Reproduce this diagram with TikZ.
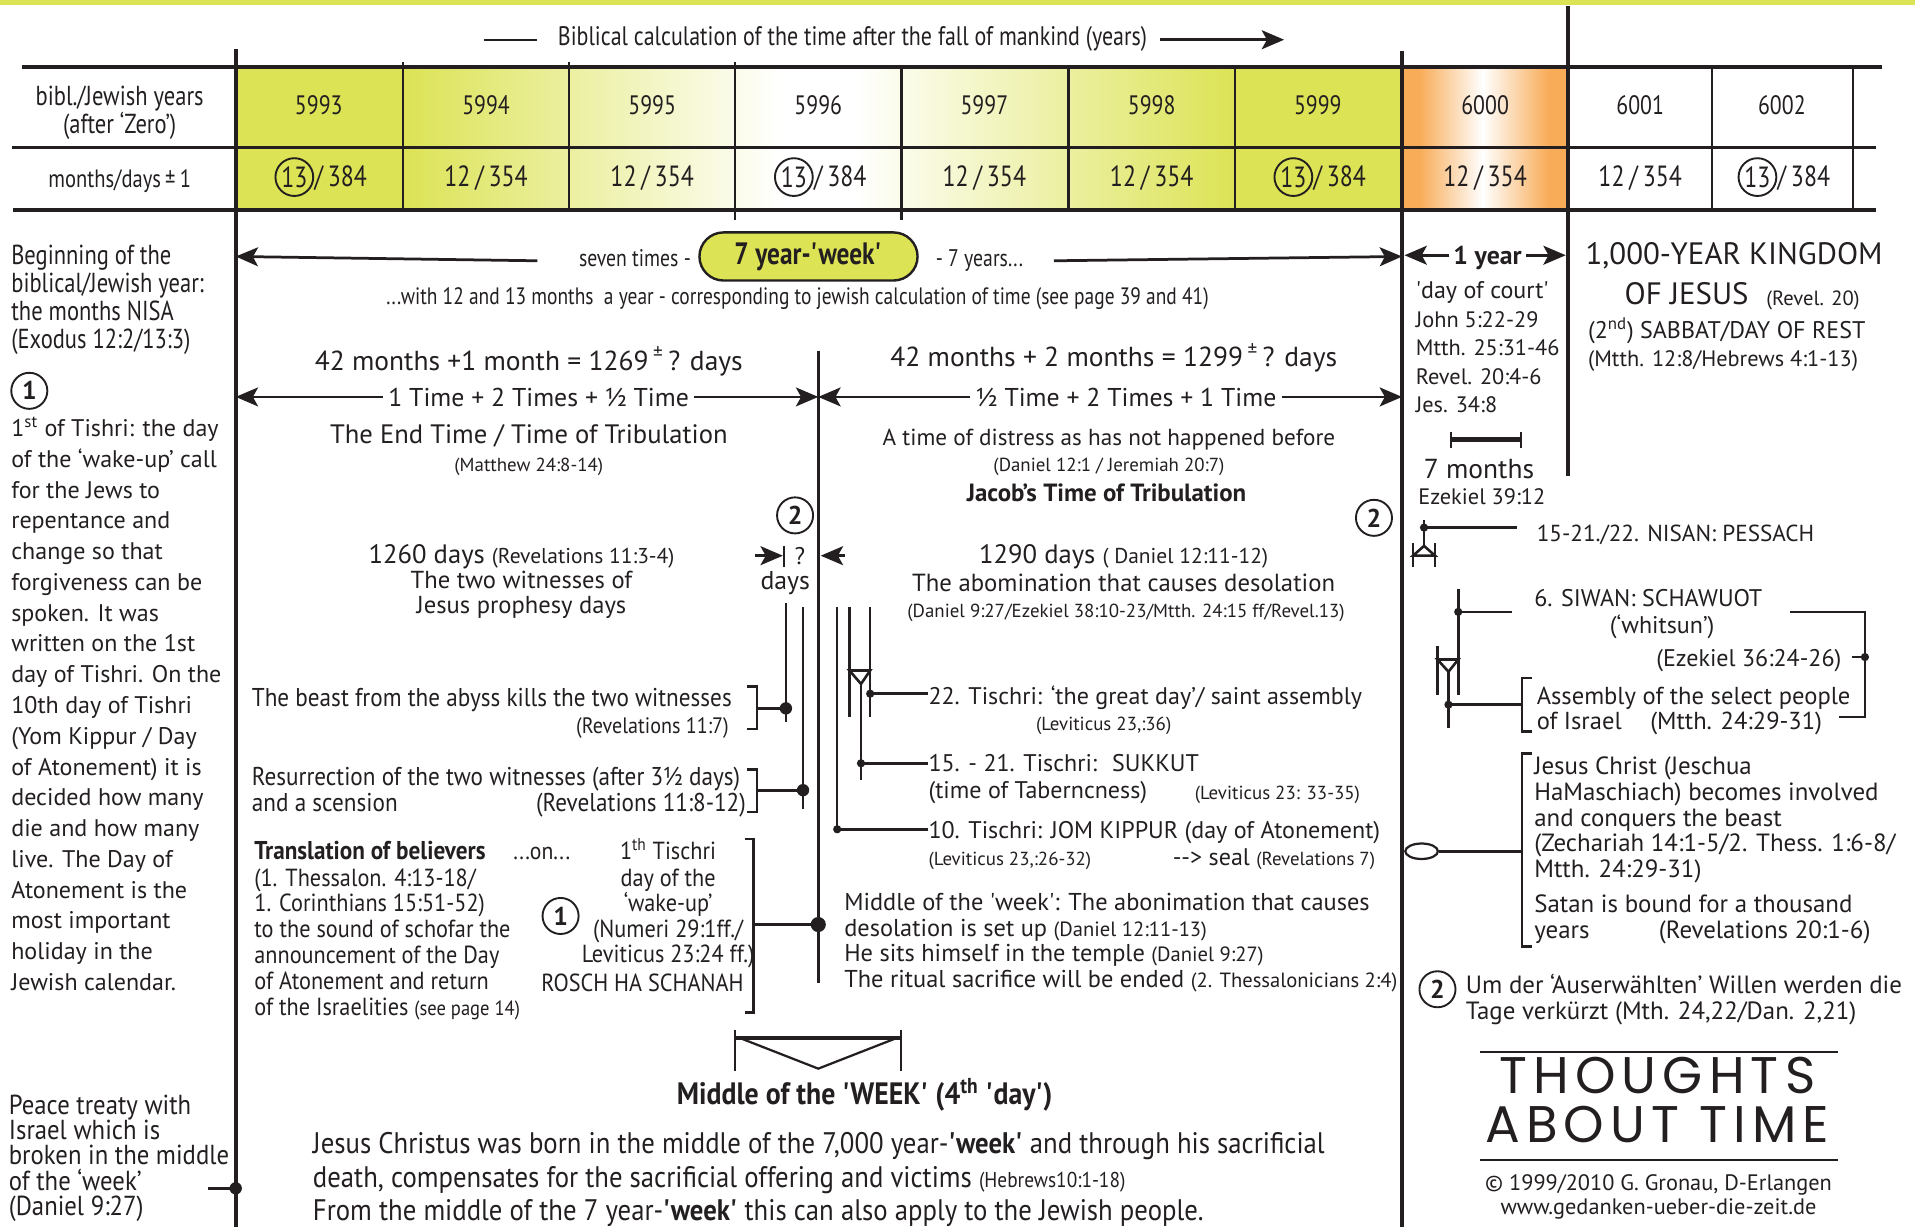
\documentclass[tikz,border=0pt]{standalone}
\usepackage{fontspec}
\setmainfont{PT Sans}
\newfontfamily\cond[FakeStretch=0.82]{PT Sans}
\newfontfamily\condb[FakeStretch=0.9]{PT Sans}
\newfontfamily\hand[LetterSpace=12]{Poppins}
\usetikzlibrary{arrows.meta,shapes.geometric}
\definecolor{ygreen}{RGB}{220,227,85}
\definecolor{orng}{RGB}{248,172,88}
\definecolor{ink}{RGB}{35,31,32}
\newcommand\fs[1]{\fontsize{#1}{#1}\selectfont}
\newcommand\sq{\textquotesingle}
\tikzset{
  t/.style={inner sep=0pt, text height=0.7em, text depth=0pt, text=ink, yshift=-1.8pt},
  arr/.style={line width=1.6pt, draw=ink, -{Stealth[length=13pt, width=11pt, inset=3pt]}},
  num/.style={circle, draw=ink, line width=1.1pt, minimum size=21pt, inner sep=0pt, text=ink, font=\bfseries\fs{15}},
  brk/.style={line width=1.4pt, draw=ink},
  tl/.style={line width=1.5pt, draw=ink},
}
\begin{document}
\begin{tikzpicture}[x=0.025cm, y=-0.025cm, line cap=butt]
\useasboundingbox (0,0) rectangle (1568,1005);
% top bar
\fill[ygreen] (0,0) rectangle (1568,4);
% header
\node[t, font=\cond\fs{15.6}] (hdr) at (698,30) {Biblical calculation of the time after the fall of mankind (years)};
\draw[line width=1.2pt, ink] (hdr.west) ++(-17,0) -- ++(-43,0);
\draw[arr] (hdr.east) ++(10,0) -- ++(102,0);
% cells
\fill[ygreen] (193,55) rectangle (330,172);
\shade[left color=ygreen, right color=white] (330,55) rectangle (640,172);
\shade[left color=white, right color=ygreen] (700,55) rectangle (1011,172);
\fill[ygreen] (1011,55) rectangle (1148,172);
\fill[orng] (1148,55) rectangle (1284,172);
\shade[left color=orng, right color=white] (1162,55) rectangle (1214,172);
\shade[left color=white, right color=orng] (1214,55) rectangle (1268,172);
% table rules
\draw[line width=2pt, ink] (18,55) -- (1541,55);
\draw[line width=2pt, ink] (10,121) -- (1536,121);
\draw[line width=2pt, ink] (11,172) -- (1536,172);
\foreach \x/\a/\b in {330/51/172,466/51/172,602/51/180,738/55/180,875/53/172,1011/55/172,1402/55/172,1517/55/172}
  \draw[line width=1.4pt, ink] (\x,\a) -- (\x,\b);
% main time lines
\draw[line width=2.2pt, ink] (193,40) -- (193,1005);
\draw[line width=2.2pt, ink] (1148,42) -- (1148,1005);
\draw[line width=2.2pt, ink] (1284,5) -- (1284,390);
% table texts
\node[t, font=\cond\fs{16}] (lab1) at (98,79) {bibl./Jewish years};
\node[t, font=\cond\fs{16}] (lab2) at (98,102) {(after ‘Zero’)};
\node[t, font=\cond\fs{14.6}] (lab3) at (98,146) {months/days\,±\,1};
\foreach \x/\y [count=\i] in {261/5993,398/5994,534/5995,670/5996,806/5997,943/5998,1079/5999,1216/6000,1343/6001,1459/6002}
  \node[t, font=\cond\fs{15.5}] (yr\i) at (\x,86) {\y};
\foreach \x [count=\i] in {398,534,806,943,1216,1343}
  \node[t, font=\cond\fs{17}] (mt\i) at (\x,145) {12\,/\,354};
\foreach \x [count=\i] in {261,670,1079,1459}{
  \node[num, minimum size=22pt, font=\cond\fs{17}] (mc\i) at (\x-20,145) {13};
  \node[t, font=\cond\fs{17}, anchor=west] (md\i) at (mc\i.east) {/\,384};
}
% seven year week
\node[draw=ink, line width=1.4pt, fill=ygreen, rounded corners=14pt, minimum width=127pt, minimum height=28pt, inner sep=0pt, text=ink, font=\cond\bfseries\fs{18}] (week) at (662,210) {7 year-\sq week\sq};
\node[t, font=\cond\fs{14}, anchor=east] (sev) at (566,211) {seven times -};
\node[t, font=\cond\fs{14}, anchor=west] (sevy) at (766,211) {- 7 years...};
\coordinate (v1w) at (193,210);
\coordinate (v2w) at (1148,210);
\draw[arr] (sev.west -| 440,0) -- (v1w);
\draw[arr] (sevy.east -| 863,0) -- (v2w);
\node[t, font=\cond\fs{13.8}] (with) at (653,242) {...with 12 and 13 months \ a year - corresponding to jewish calculation of time (see page 39 and 41)};
% one year
\node[t, font=\bfseries\fs{15}] (oneyr) at (1218,209) {1 year};
\coordinate (v2y) at (1150,209);
\coordinate (v3y) at (1282,209);
\draw[arr] (v2y -| oneyr.west) ++(-3,0) -- (v2y);
\draw[arr] (v3y -| oneyr.east) ++(3,0) -- (v3y);
\foreach \s/\y [count=\i] in {{\fs{14}\sq day of court\sq}/237, John 5:22-29/261, Mtth. 25:31-46/284, Revel. 20:4-6/307, Jes. 34:8/330}
  \node[t, font=\fs{13}, anchor=west] (ct\i) at (1159,\y) {\s};
\draw[line width=2.6pt, ink] (1188,360) -- (1245,360);
\draw[line width=1.2pt, ink] (1188,354) -- (1188,367) (1245,354) -- (1245,367);
\node[t, font=\fs{16}] (sevm) at (1211,384) {7 months};
\node[t, font=\fs{13}, anchor=west] (ez) at (1161,406) {Ezekiel 39:12};
% kingdom
\node[t, font=\fs{18}, anchor=west] (king1) at (1298,209) {1,000-YEAR KINGDOM};
\node[t, font=\fs{18}, anchor=west] (king2) at (1330,242) {OF JESUS};
\node[t, font=\fs{12}, anchor=west] (king3) at (1446,243) {(Revel. 20)};
\node[t, font=\fs{14}, anchor=west] (sab) at (1300,270) {(2\textsuperscript{nd}) SABBAT/DAY OF REST};
\node[t, font=\fs{13}, anchor=west] (sabr) at (1300,293) {(Mtth. 12:8/Hebrews 4:1-13)};
% left column
\foreach \s [count=\i from 0] in {Beginning of the, biblical/Jewish year:, the months NISA, {(Exodus 12:2/13:3)}}
  \node[t, font=\cond\fs{16}, anchor=west] (bg\i) at (9,209+\i*23) {\s};
\node[num] (n1a) at (24,320) {1};
\foreach \s [count=\i from 0] in {1\textsuperscript{st} of Tishri: the day, of the ‘wake-up’ call, for the Jews to, repentance and, change so that, forgiveness can be, spoken. It was, written on the 1st, day of Tishri. On the, 10th day of Tishri, {(Yom Kippur / Day}, of Atonement) it is, decided how many, die and how many, live. The Day of, Atonement is the, most important, holiday in the, Jewish calendar.}
  \node[t, font=\fs{14}, anchor=west] (lp\i) at (9,350+\i*25.2) {\s};
\foreach \s [count=\i from 0] in {Peace treaty with, Israel which is, broken in the middle, of the ‘week’, {(Daniel 9:27)}}
  \node[t, font=\condb\fs{16}, anchor=west] (pt\i) at (7,905+\i*20.7) {\s};
\coordinate (ptd) at (193,973);
\draw[line width=2pt, ink] (170,973) -- (ptd);
\fill[ink] (ptd) circle (3.6pt);
% first half
\node[t, font=\fs{16}] (m42a) at (433,296) {42 months +1 month = 1269\,\textsuperscript{±}\,? days};
\node[t, fill=white, inner xsep=3pt, font=\fs{15}] (tla) at (441,325) {1 Time + 2 Times + ½ Time};
\coordinate (v1t) at (193,325);
\coordinate (cmt) at (670,325);
\draw[arr] (tla.west |- v1t) -- (v1t);
\draw[arr] (tla.east |- cmt) -- (cmt);
\node[t, font=\fs{15.5}] (endt) at (433,356) {The End Time / Time of Tribulation};
\node[t, font=\fs{11}] (mat) at (433,379) {(Matthew 24:8-14)};
\node[num] (n2a) at (651,422) {2};
\node[t, font=\fs{15.5}] (d1260) at (427,454) {1260 days {\fs{12.5}(Revelations 11:3-4)}};
\node[t, font=\fs{14.3}] (wit1) at (427,474) {The two witnesses of};
\node[t, font=\fs{14.3}] (wit2) at (427,495) {Jesus prophesy days};
\node[t, font=\fs{14}] (qm) at (655,455) {?};
\node[t, font=\fs{15}] (qd) at (643,475) {days};
\coordinate (qa) at (641,455);
\coordinate (qb) at (672,455);
\draw[arr] (618,455) -- (qa);
\draw[line width=1.5pt, ink] (642,447) -- (642,464);
\draw[arr] (692,455) -- (qb);
% second half
\node[t, font=\fs{16}] (m42b) at (912,293) {42 months + 2 months = 1299\,\textsuperscript{±}\,? days};
\node[t, fill=white, inner xsep=3pt, font=\fs{15}] (tlb) at (922,325) {½ Time + 2 Times + 1 Time};
\coordinate (v2t) at (1148,325);
\draw[arr] (tlb.west |- cmt) -- (cmt);
\draw[arr] (tlb.east |- v2t) -- (v2t);
\node[t, font=\fs{13.5}] (dist) at (908,357) {A time of distress as has not happened before};
\node[t, font=\fs{11}] (dan) at (908,379) {(Daniel 12:1 / Jeremiah 20:7)};
\node[t, font=\bfseries\fs{14.5}] (jac) at (906,403) {Jacob’s Time of Tribulation};
\node[num] (n2b) at (1125,424) {2};
\node[t, font=\fs{15.5}] (d1290) at (920,454) {1290 days {\fs{12.5}( Daniel 12:11-12)}};
\node[t, font=\fs{14.4}] (abom) at (920,477) {The abomination that causes desolation};
\node[t, font=\fs{11}] (abr) at (922,498) {(Daniel 9:27/Ezekiel 38:10-23/Mtth. 24:15 ff/Revel.13)};
% time lines in the middle
\draw[line width=2pt, ink] (670,287) -- (670,805);
\draw[tl] (643.5,494) -- (643.5,591);
\draw[tl] (657.5,497) -- (657.5,662);
\draw[tl] (685.5,497) -- (685.5,679);
\draw[tl] (695.5,497) -- (695.5,587);
\draw[tl] (712.5,497) -- (712.5,587);
\draw[tl] (695.5,549) -- (712.5,549) -- (705,560) -- cycle;
\draw[tl] (705,560) -- (705,639);
\coordinate (d10) at (685.5,679);
\coordinate (d15) at (705,625);
\coordinate (d22) at (712.5,568);
\foreach \c in {d10,d15,d22} \fill[ink] (\c) circle (2.4pt);
% feasts in autumn
\node[t, font=\fs{14}, anchor=west] (f22) at (760,569) {22. Tischri: ‘the great day’/ saint assembly};
\node[t, font=\fs{11}, anchor=west] (f22r) at (848,591) {(Leviticus 23,:36)};
\node[t, font=\fs{14}, anchor=west] (f15) at (760,624) {15. - 21. Tischri: \ SUKKUT};
\node[t, font=\fs{14}, anchor=west] (f15b) at (760,646) {(time of Taberncness)};
\node[t, font=\fs{11}, anchor=west] (f15r) at (978,647) {(Leviticus 23: 33-35)};
\node[t, font=\fs{14}, anchor=west] (f10) at (760,679) {10. Tischri: JOM KIPPUR (day of Atonement)};
\node[t, font=\fs{11}, anchor=west] (f10r) at (760,701) {(Leviticus 23,:26-32)};
\node[t, font=\fs{14}, anchor=west] (seal) at (960,701) {{-}{-}> seal {\fs{11}(Revelations 7)}};
\draw[tl] (d22) -- (d22 -| f22.west);
\draw[tl] (d15) -- (d15 -| f15.west);
\draw[tl] (d10) -- (d10 -| f10.west);
\foreach \s [count=\i from 0] in {Middle of the \sq week\sq: The abonimation that causes, desolation is set up {\fs{12}(Daniel 12:11-13)}, He sits himself in the temple {\fs{12}(Daniel 9:27)}, The ritual sacrifice will be ended {\fs{12}(2. Thessalonicians 2:4)}}
  \node[t, font=\fs{14.2}, anchor=west] (mw\i) at (691,738+\i*21) {\s};
% events of the two witnesses
\node[t, font=\condb\fs{15}, anchor=west] (beast) at (206,571) {The beast from the abyss kills the two witnesses};
\node[t, font=\condb\fs{13}, anchor=east] (beastr) at (597,593) {(Revelations 11:7)};
\node[t, font=\condb\fs{15}, anchor=west] (res1) at (206,636) {Resurrection of the two witnesses (after 3½ days)};
\node[t, font=\condb\fs{15}, anchor=west] (res2) at (206,657) {and a scension};
\node[t, font=\condb\fs{15}, anchor=east] (resr) at (611,657) {(Revelations 11:8-12)};
\coordinate (b1) at (620,580);
\coordinate (b2) at (620,647);
\coordinate (b3) at (617,757);
\coordinate (dw1) at (643.5,580);
\coordinate (dw2) at (657.5,647);
\coordinate (dmid) at (670,757);
\draw[brk] (612,562) -- (620,562) -- (620,597) -- (612,597);
\draw[brk] (612,630) -- (620,630) -- (620,665) -- (612,665);
\draw[brk] (610,687) -- (617,687) -- (617,829) -- (610,829);
\draw[line width=1.8pt, ink] (b1) -- (dw1);
\draw[line width=1.8pt, ink] (b2) -- (dw2);
\draw[line width=1.8pt, ink] (b3) -- (dmid);
\fill[ink] (dw1) circle (3.6pt);
\fill[ink] (dw2) circle (3.6pt);
\fill[ink] (dmid) circle (4.4pt);
% translation of believers
\node[t, font=\condb\bfseries\fs{15}, anchor=west] (trans) at (208,696) {Translation of believers};
\node[t, font=\condb\fs{14}, anchor=west] (on) at (420,696) {...on...};
\foreach \s [count=\i from 0] in {{(1. Thessalon. 4:13-18/}, 1. Corinthians 15:51-52), to the sound of schofar the, announcement of the Day, of Atonement and return, of the Israelities {\fs{12}(see page 14)}}
  \node[t, font=\condb\fs{14.4}, anchor=west] (tr\i) at (208,718+\i*21.2) {\s};
\node[num] (n1b) at (459,750) {1};
\foreach \s/\y [count=\i] in {{1\textsuperscript{th} Tischri}/696, {day of the}/718, {‘wake-up’}/739, {(Numeri 29:1ff./}/760, {Leviticus 23:24 ff.)}/781}
  \node[t, font=\condb\fs{14.4}] (rh\i) at (547,\y) {\s};
\node[t, font=\condb\fs{14.4}] (rosch) at (526,804) {ROSCH HA SCHANAH};
% middle of the week
\draw[line width=1pt, ink] (602,843) -- (602,877) (738,843) -- (738,877);
\draw[line width=2.2pt, ink] (602,850) -- (738,850);
\draw[line width=1.3pt, ink] (606,850) -- (670,875) -- (734,850);
\node[t, font=\condb\bfseries\fs{18}] (mid) at (708,897) {Middle of the \sq WEEK\sq{} (4\textsuperscript{th} \sq day\sq)};
\foreach \s [count=\i from 0] in {Jesus Christus was born in the middle of the 7{,}000 year-\textbf{\sq week\sq} and through his sacrificial, {death, compensates for the sacrificial offering and victims {\fs{12.5}(Hebrews10:1-18)}}, From the middle of the 7 year-\textbf{\sq week\sq} this can also apply to the Jewish people.}
  \node[t, font=\condb\fs{17.3}, anchor=west] (jc\i) at (256,937+\i*27.5) {\s};
% feasts in spring
\coordinate (dp) at (1166,432);
\draw[tl] (1166,426) -- (1166,447);
\draw[tl] (1166,447) -- (1157,455) -- (1175,455) -- cycle;
\draw[tl] (1157,445) -- (1157,464) (1175,445) -- (1175,464);
\node[t, font=\fs{13.5}, anchor=west] (pes) at (1258,436) {15-21./22. NISAN: PESSACH};
\draw[tl] (dp) -- ++(76,0);
\fill[ink] (dp) circle (2.4pt);
\coordinate (ds) at (1194,501);
\coordinate (da) at (1186,577);
\draw[tl] (1194,482) -- (1194,569);
\draw[tl] (1177,529) -- (1177,569);
\draw[tl] (1177,540) -- (1194,540) -- (1186,550) -- cycle;
\draw[tl] (1186,550) -- (1186,596);
\draw[tl] (ds) -- ++(44,0);
\fill[ink] (ds) circle (2.4pt);
\node[t, font=\fs{14}, anchor=west] (siw) at (1256,489) {6. SIWAN: SCHAWUOT};
\node[t, font=\fs{14}] (whit) at (1361,511) {(‘whitsun’)};
\node[t, font=\fs{14}, anchor=east] (ezk) at (1508,538) {(Ezekiel 36:24-26)};
\coordinate (de) at (1527,538);
\draw[brk] (1466,501) -- (1527,501) -- (1527,587) -- (1506,587);
\draw[tl] (de) -- ++(-11,0);
\fill[ink] (de) circle (2.4pt);
\coordinate (ba) at (1246,577);
\draw[brk] (1254,555) -- (1246,555) -- (1246,599) -- (1254,599);
\draw[tl] (da) -- (ba);
\fill[ink] (da) circle (2.4pt);
\node[t, font=\fs{14.3}, anchor=west] (asm1) at (1258,569) {Assembly of the select people};
\node[t, font=\fs{14.3}, anchor=west] (asm2) at (1258,590) {of Israel};
\node[t, font=\fs{14.3}, anchor=west] (asmr) at (1351,590) {(Mtth. 24:29-31)};
% return of Jesus
\node[ellipse, draw=ink, line width=1.3pt, fill=white, minimum width=19pt, minimum height=9pt, inner sep=0pt] (ell) at (1164,697) {};
\coordinate (bj) at (1246,697);
\draw[tl] (ell.east) -- (bj);
\draw[brk] (1254,617) -- (1246,617) -- (1246,775) -- (1254,775);
\foreach \s/\y [count=\i] in {{Jesus Christ (Jeschua}/627, {HaMaschiach) becomes involved}/648, {and conquers the beast}/669, {(Zechariah 14:1-5/2. Thess. 1:6-8/}/690, {Mtth. 24:29-31)}/711, {Satan is bound for a thousand}/740, {years}/761}
  \node[t, font=\fs{14.5}, anchor=west] (js\i) at (1256,\y) {\s};
\node[t, font=\fs{14.5}, anchor=west] (jsr) at (1358,761) {(Revelations 20:1-6)};
% note 2
\node[num] (n2c) at (1177,810) {2};
\node[t, font=\fs{14.5}, anchor=west] (um1) at (1200,806) {Um der ‘Auserwählten’ Willen werden die};
\node[t, font=\fs{14.5}, anchor=west] (um2) at (1200,827) {Tage verkürzt (Mth. 24,22/Dan. 2,21)};
% title
\draw[line width=1.2pt, ink] (1212,861) -- (1505,861);
\draw[line width=1.2pt, ink] (1212,950) -- (1505,950);
\node[t, font=\hand\fs{30}] (tt1) at (1357,888) {THOUGHTS};
\node[t, font=\hand\fs{30}] (tt2) at (1357,928) {ABOUT TIME};
\node[t, font=\fs{13}] (cp1) at (1358,967) {© 1999/2010 G. Gronau, D-Erlangen};
\node[t, font=\fs{13}] (cp2) at (1358,987) {www.gedanken-ueber-die-zeit.de};
\end{tikzpicture}
\end{document}
